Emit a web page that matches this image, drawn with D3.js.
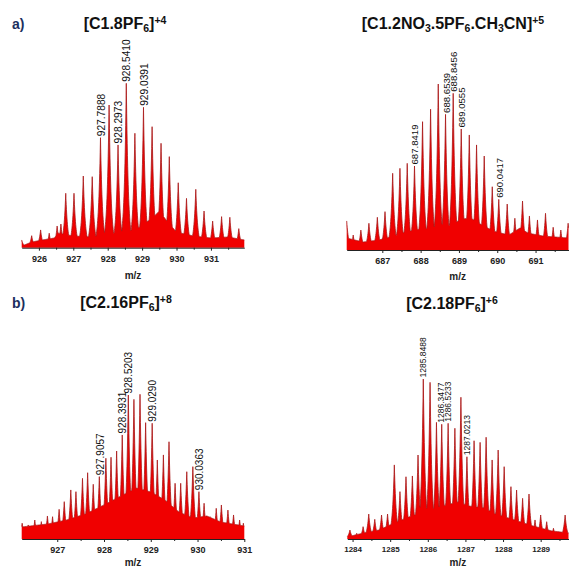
<!DOCTYPE html>
<html>
<head>
<meta charset="utf-8">
<script src="https://cdn.jsdelivr.net/npm/d3@7"></script>
<style>
body { margin: 0; background: #fff; }
svg text { font-family: Arial, "Liberation Sans", sans-serif; }
</style>
</head>
<body>
<div id="chart"></div>
<script>
// peaks are [m/z, relative intensity %], base is the broad floor under the peaks

// a) left  [C1.8PF6]+4
var p1Peaks = [[925.50,4.7],[925.79,7.3],[926.05,10.8],[926.30,8.8],[926.53,13.2],[926.64,14.4],[926.78,33.1],[927.02,33.1],
  [927.29,43.6],[927.55,43.2],[927.79,66.9],[928.04,86.8],[928.30,62.5],[928.54,100],[928.79,69.6],[929.04,85.4],
  [929.29,73.6],[929.55,63.5],[929.79,55.4],[930.05,39.5],[930.29,30.0],[930.56,35.5],[930.80,22.3],[931.05,16.2],
  [931.31,18.9],[931.55,18.5],[931.81,11.6]];
var p1Base = [[925.5,1.0],[925.8,3.5],[926.1,4.7],[926.45,5.9],[926.55,8.9],[927.0,7.1],[927.6,6.5],[928.2,8.9],[928.8,10.8],
  [929.3,18.1],[929.5,22.3],[929.7,16.8],[930.0,9.5],[930.5,7.1],[931.0,5.9],[931.5,6.5],[931.97,4.7]];
var p1Labels = ['927.7888','928.2973','928.5410','929.0391'];
var p1Ticks = [926, 927, 928, 929, 930, 931];

// a) right  [C1.2NO3.5PF6.CH3CN]+5
var p2Peaks = [[686.07,17.5],[686.24,9.0],[686.44,12.0],[686.65,16.1],[686.87,19.7],[687.07,23.1],[687.27,46.2],[687.46,49.2],
  [687.65,52.2],[687.84,50.6],[688.05,77.3],[688.26,84.8],[688.46,100],[688.65,81.7],[688.85,94.4],[689.06,72.9],
  [689.27,69.3],[689.46,63.3],[689.66,56.6],[689.87,38.1],[690.04,30.5],[690.26,27.7],[690.46,19.1],[690.66,29.5],
  [690.84,20.5],[691.05,18.1],[691.26,22.1],[691.46,13.7],[691.66,12.0],[691.85,16.1]];
var p2Base = [[686.07,7.2],[686.5,4.8],[686.9,6.0],[687.3,8.4],[687.6,10.8],[688.0,12.7],[688.6,13.3],[689.1,18.7],[689.3,19.3],
  [689.6,15.1],[689.9,11.4],[690.3,9.0],[690.6,13.3],[690.8,10.2],[691.2,8.4],[691.86,7.2]];
var p2Labels = ['687.8419','688.6539','688.8456','689.0555','690.0417'];
var p2Ticks = [687, 688, 689, 690, 691];

// b) left  [C2.16PF6]+8
var p3Peaks = [[926.25,10.9],[926.38,9.7],[926.52,13.1],[926.66,12.0],[926.79,15.9],[926.90,15.4],[927.04,20.5],[927.15,25.8],
  [927.29,33.9],[927.40,32.7],[927.54,41.9],[927.65,45.8],[927.77,37.8],[927.90,43.1],[928.04,55.8],[928.15,56.5],
  [928.27,60.8],[928.39,71.9],[928.52,99.5],[928.64,96.5],[928.77,100],[928.89,80.4],[929.03,80.0],[929.14,54.6],
  [929.27,58.1],[929.39,67.2],[929.52,38.5],[929.64,38.5],[929.77,46.5],[929.90,50.0],[930.03,32.7],[930.14,24.7],
  [930.27,15.4],[930.40,21.2],[930.51,23.5],[930.65,20.0],[930.77,16.6],[930.90,13.1],[930.98,10.9]];
var p3Base = [[926.24,8.3],[926.8,10.4],[927.2,13.1],[927.6,17.3],[928.0,23.5],[928.4,30.4],[928.7,35.2],[929.0,32.5],
  [929.3,27.0],[929.6,18.7],[929.9,14.5],[930.2,15.9],[930.5,11.7],[931.0,9.0]];
var p3Labels = ['927.9057','928.3931','928.5203','929.0290','930.0363'];
var p3Ticks = [927, 928, 929, 930, 931];

// b) right  [C2.18PF6]+6
var p4Peaks = [[1283.93,5.6],[1284.11,3.6],[1284.28,7.7],[1284.43,15.6],[1284.59,12.3],[1284.77,15.0],[1284.93,15.6],
  [1285.11,46.3],[1285.26,29.6],[1285.42,38.9],[1285.59,39.4],[1285.74,52.5],[1285.88,100],[1286.06,97.9],[1286.23,72.9],
  [1286.37,71.7],[1286.54,72.3],[1286.72,69.2],[1286.88,88.6],[1287.04,51.4],[1287.23,61.4],[1287.39,60.4],[1287.55,63.6],
  [1287.71,49.4],[1287.87,55.6],[1288.03,45.2],[1288.21,32.7],[1288.36,30.6],[1288.52,25.4],[1288.69,28.1],[1288.85,11.9],
  [1289.00,15.0],[1289.16,10.8],[1289.34,6.7],[1289.49,4.6],[1289.65,15.0]];
var p4Base = [[1283.86,1.3],[1284.3,3.8],[1284.7,5.6],[1285.0,8.8],[1285.5,13.8],[1286.0,18.1],[1286.5,21.3],[1286.8,23.1],
  [1287.1,20.6],[1287.5,19.4],[1287.8,15.6],[1288.3,11.9],[1288.8,8.1],[1289.3,5.0],[1289.74,3.8]];
var p4Labels = ['1285.8488','1286.3477','1286.5233','1287.0213'];
var p4Ticks = [1284, 1285, 1286, 1287, 1288, 1289];

var p1Title = [['[C1.8PF',''],['6','sub'],[']',''],['+4','sup']];
var p2Title = [['[C1.2NO',''],['3','sub'],['.5PF',''],['6','sub'],['.CH',''],['3','sub'],['CN]',''],['+5','sup']];
var p3Title = [['[C2.16PF',''],['6','sub'],[']',''],['+8','sup']];
var p4Title = [['[C2.18PF',''],['6','sub'],[']',''],['+6','sup']];

var panels = [
  {peaks: p1Peaks, base: p1Base, labels: p1Labels, ticks: p1Ticks, title: p1Title,
   domain: [925.5, 931.97], xr: [21.7, 244.3], axisY: 247.7, topY: 83.3, titleX: 125, titleY: 29, lab: 10.2, tick: 9, mz: 31},
  {peaks: p2Peaks, base: p2Base, labels: p2Labels, ticks: p2Ticks, title: p2Title,
   domain: [686.07, 691.86], xr: [346.7, 568.5], axisY: 250, topY: 84, titleX: 453, titleY: 29, lab: 9.6, tick: 9, mz: 30},
  {peaks: p3Peaks, base: p3Base, labels: p3Labels, ticks: p3Ticks, title: p3Title,
   domain: [926.24, 931.0], xr: [21.7, 244.3], axisY: 539, topY: 394.3, titleX: 126, titleY: 308, lab: 10, tick: 9, mz: 27},
  {peaks: p4Peaks, base: p4Base, labels: p4Labels, ticks: p4Ticks, title: p4Title,
   domain: [1283.86, 1289.74], xr: [347.3, 568.5], axisY: 539, topY: 379, titleX: 452, titleY: 309, lab: 8.5, tick: 8, mz: 27}
];

var svg = d3.select('#chart').append('svg').attr('width', 569).attr('height', 569);

panels.forEach(function(p) {
  var x = d3.scaleLinear().domain(p.domain).range(p.xr);
  var y = d3.scaleLinear().domain([0, 100]).range([p.axisY, p.topY]);
  var floor = d3.scaleLinear().domain(p.base.map(function(d) { return d[0]; }))
    .range(p.base.map(function(d) { return d[1]; })).clamp(true);
  var pxPerUnit = x(p.domain[0] + 1) - x(p.domain[0]);
  var w = 2.0 / pxPerUnit; // peak decay width, about two pixels

  // sample the profile finely, and always hit the peak tips
  var grid = d3.range(p.domain[0], p.domain[1], 0.25 / pxPerUnit).concat([p.domain[1]])
    .concat(p.peaks.map(function(k) { return k[0]; }))
    .filter(function(m) { return m >= p.domain[0] && m <= p.domain[1]; })
    .sort(d3.ascending);
  var profile = grid.map(function(m) {
    var v = floor(m);
    p.peaks.forEach(function(k) {
      var h = k[1] * Math.exp(-Math.abs(m - k[0]) / w);
      if (h > v) v = h;
    });
    return [m, v];
  });

  var area = d3.area().x(function(d) { return x(d[0]); }).y0(p.axisY).y1(function(d) { return y(d[1]); });
  var line = d3.line().x(function(d) { return x(d[0]); }).y(function(d) { return y(d[1]); });
  svg.append('path').datum(profile).attr('d', area).attr('fill', '#f00000');
  svg.append('path').datum(profile).attr('d', line).attr('fill', 'none').attr('stroke', '#a81818').attr('stroke-width', 0.8);

  // axis
  var ax = svg.append('g').attr('transform', 'translate(0,' + p.axisY + ')')
    .call(d3.axisBottom(x).tickValues(p.ticks).tickSize(3).tickSizeOuter(0).tickFormat(d3.format('d')));
  ax.select('.domain').attr('stroke', '#222');
  ax.selectAll('.tick line').attr('stroke', '#222');
  ax.selectAll('text').attr('fill', '#222').style('font-size', p.tick + 'px').style('font-weight', 'bold').attr('dy', '0.9em');
  var minor = p.ticks.map(function(t) { return t + 0.5; }).filter(function(t) { return t < p.domain[1]; });
  svg.append('g').attr('transform', 'translate(0,' + p.axisY + ')')
    .call(d3.axisBottom(x).tickValues(minor).tickSize(2).tickSizeOuter(0).tickFormat(''))
    .call(function(g) { g.select('.domain').remove(); g.selectAll('line').attr('stroke', '#222'); });

  svg.append('text').attr('x', (p.xr[0] + p.xr[1]) / 2).attr('y', p.axisY + p.mz)
    .attr('text-anchor', 'middle').style('font-size', '10px').style('font-weight', 'bold').attr('fill', '#222').text('m/z');

  // peak labels
  p.labels.forEach(function(s) {
    var m = +s;
    var pk = p.peaks.reduce(function(a, b) { return Math.abs(b[0] - m) < Math.abs(a[0] - m) ? b : a; });
    var lx = x(m) + 0.5, ly = y(pk[1]) - 1.5;
    svg.append('text').attr('transform', 'translate(' + lx + ',' + ly + ') rotate(-90)')
      .attr('dy', '0.35em').style('font-size', p.lab + 'px').attr('fill', '#111').text(s);
  });

  // title with sub/superscripts
  var t = svg.append('text').attr('x', p.titleX).attr('y', p.titleY).attr('text-anchor', 'middle')
    .style('font-size', '16px').style('font-weight', 'bold').attr('fill', '#111');
  var cur = 0;
  p.title.forEach(function(part) {
    var off = part[1] === 'sub' ? 3 : part[1] === 'sup' ? -5 : 0;
    var ts = t.append('tspan').attr('dy', off - cur).text(part[0]);
    if (part[1]) ts.style('font-size', '10.5px');
    cur = off;
  });
});

svg.append('text').attr('x', 12).attr('y', 29).style('font-size', '14px').style('font-weight', 'bold').attr('fill', '#1c2f5e').text('a)');
svg.append('text').attr('x', 12).attr('y', 308).style('font-size', '14px').style('font-weight', 'bold').attr('fill', '#1c2f5e').text('b)');
</script>
</body>
</html>
